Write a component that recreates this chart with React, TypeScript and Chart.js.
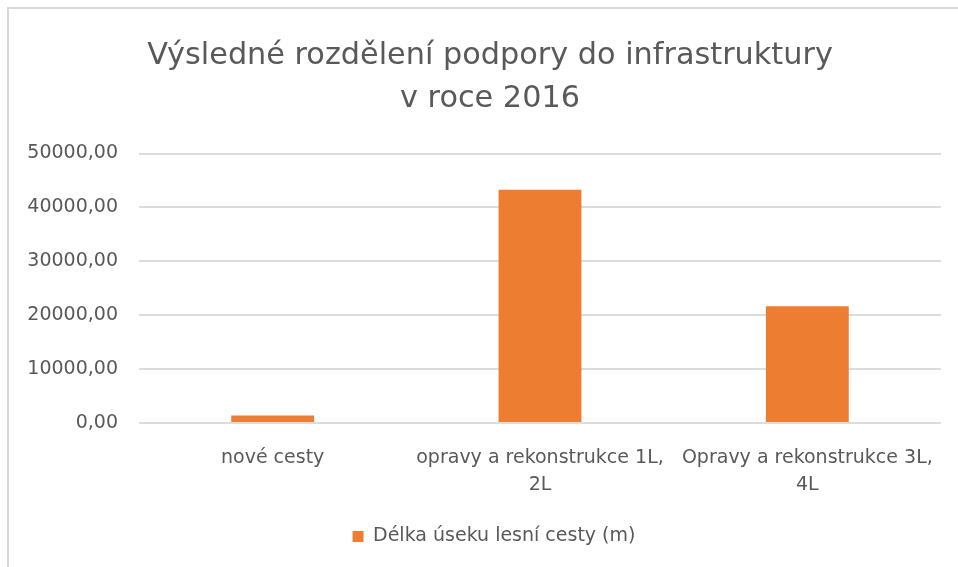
import React, { useEffect, useRef } from "react";
import { Chart, registerables } from "chart.js";

Chart.register(...registerables);

const titleLines = ["Výsledné rozdělení podpory do infrastruktury", "v roce 2016"];
const categories = [
  ["nové cesty"],
  ["opravy a rekonstrukce 1L,", "2L"],
  ["Opravy a rekonstrukce 3L,", "4L"],
];
const seriesName = "Délka úseku lesní cesty (m)";
const seriesValues = [1400, 43300, 21650];
const yMin = 0;
const yMax = 50000;
const yStep = 10000;

const TEXT = "#595959";
const GRID = "#dcdcdc";
const BAR = "#ed7d31";
const FONT = "'DejaVu Sans', sans-serif";

// Excel centres title/legend on the whole chart frame, which extends past the visible area.
const shiftPlugin = {
  id: "frameCentre",
  afterLayout(chart: any) {
    const t = chart.titleBlock;
    if (t) {
      t.left += 15;
      t.right += 15;
    }
    const l = chart.legend;
    if (l) {
      l.left += 19;
      l.right += 19;
    }
  },
};

export default function App() {
  const ref = useRef<HTMLCanvasElement | null>(null);

  useEffect(() => {
    if (!ref.current) return;
    const chart = new Chart(ref.current, {
      type: "bar",
      data: {
        labels: categories,
        datasets: [
          {
            label: seriesName,
            data: seriesValues,
            backgroundColor: BAR,
            borderWidth: 0,
            barPercentage: 0.31,
            categoryPercentage: 1,
          },
        ],
      },
      plugins: [shiftPlugin],
      options: {
        animation: false,
        responsive: false,
        maintainAspectRatio: false,
        layout: { padding: { left: 0, right: 9, top: 0, bottom: 2 } },
        plugins: {
          tooltip: { enabled: false },
          title: {
            display: true,
            text: titleLines,
            color: TEXT,
            font: { family: FONT, size: 30.3, weight: "normal", lineHeight: 1.42 },
            padding: { top: 26, bottom: 32.5 },
          },
          legend: {
            display: true,
            position: "bottom",
            labels: {
              color: TEXT,
              font: { family: FONT, size: 19 },
              boxWidth: 11,
              boxHeight: 11,
              padding: 10,
            },
          },
        },
        scales: {
          x: {
            grid: { display: false },
            border: { display: false },
            ticks: {
              color: TEXT,
              font: { family: FONT, size: 19, lineHeight: 1.42 },
              padding: 13.5,
              maxRotation: 0,
              autoSkip: false,
            },
            afterFit: (s: any) => {
              s.height = 94;
            },
          },
          y: {
            min: yMin,
            max: yMax,
            grid: { color: GRID, lineWidth: 2, drawTicks: false },
            border: { display: false },
            ticks: {
              stepSize: yStep,
              color: TEXT,
              font: { family: FONT, size: 19 },
              padding: 21,
              callback: (v: any) => Number(v).toFixed(2).replace(".", ","),
            },
            afterFit: (s: any) => {
              s.width = 130;
            },
          },
        },
      },
    });
    return () => chart.destroy();
  }, []);

  return (
    <div
      style={{
        position: "fixed",
        left: 0,
        top: 0,
        width: 958,
        height: 567,
        overflow: "hidden",
        background: "#fff",
      }}
    >
      <div
        style={{
          position: "absolute",
          left: 7,
          top: 7,
          width: 1000,
          height: 600,
          borderTop: "2px solid #d9d9d9",
          borderLeft: "2px solid #d9d9d9",
        }}
      >
        <canvas ref={ref} width={941} height={549} style={{ display: "block" }} />
      </div>
    </div>
  );
}
